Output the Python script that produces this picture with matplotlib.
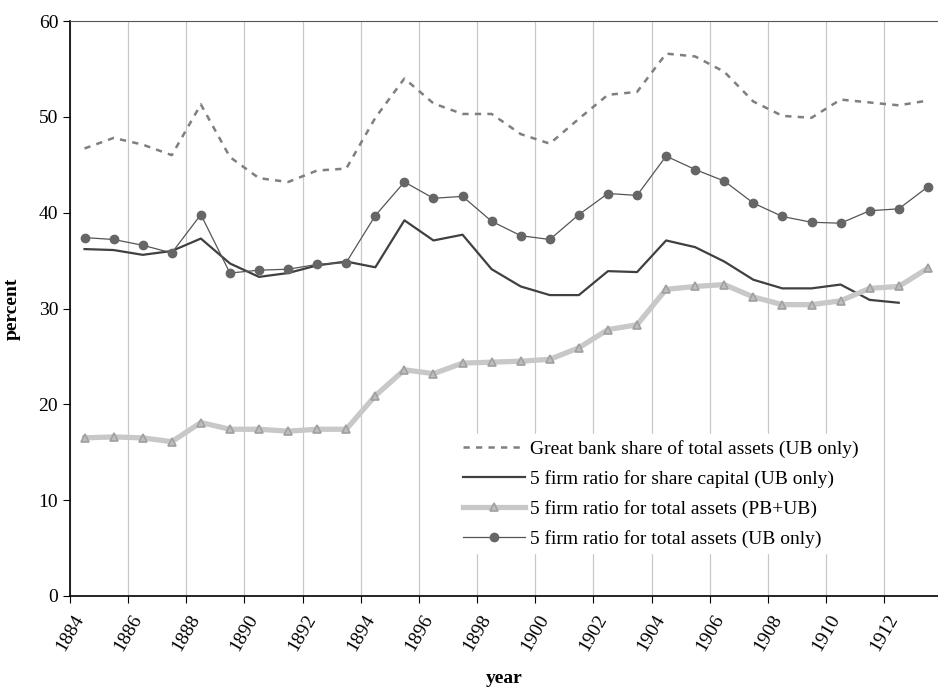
import matplotlib.pyplot as plt
import numpy as np

plt.rcParams['font.family'] = ['Liberation Serif', 'DejaVu Serif']

years = np.arange(1884.5, 1914.0, 1.0)

# Great bank share of total assets (UB only)
great_bank = [46.7, 47.8, 47.1, 46.0, 51.3, 45.8, 43.6, 43.2, 44.4, 44.6,
              49.9, 54.0, 51.4, 50.3, 50.3, 48.2, 47.2, 49.8, 52.3, 52.6,
              56.6, 56.3, 54.7, 51.6, 50.1, 49.9, 51.8, 51.5, 51.2, 51.7]
# 5 firm ratio for share capital (UB only), no value for 1913
share_cap = [36.2, 36.1, 35.6, 36.0, 37.3, 34.7, 33.3, 33.7, 34.5, 34.9,
             34.3, 39.2, 37.1, 37.7, 34.1, 32.3, 31.4, 31.4, 33.9, 33.8,
             37.1, 36.4, 34.9, 33.0, 32.1, 32.1, 32.5, 30.9, 30.6]
# 5 firm ratio for total assets (PB+UB)
assets_pbub = [16.5, 16.6, 16.5, 16.1, 18.1, 17.4, 17.4, 17.2, 17.4, 17.4,
               20.9, 23.6, 23.2, 24.3, 24.4, 24.5, 24.7, 25.9, 27.8, 28.3,
               32.0, 32.3, 32.5, 31.2, 30.4, 30.4, 30.8, 32.1, 32.3, 34.2]
# 5 firm ratio for total assets (UB only)
assets_ub = [37.4, 37.2, 36.6, 35.8, 39.8, 33.7, 34.0, 34.1, 34.6, 34.8,
             39.7, 43.2, 41.5, 41.7, 39.1, 37.6, 37.2, 39.8, 42.0, 41.8,
             45.9, 44.5, 43.3, 41.0, 39.6, 39.0, 38.9, 40.2, 40.4, 42.7]

labels = ['Great bank share of total assets (UB only)',
          '5 firm ratio for share capital (UB only)',
          '5 firm ratio for total assets (PB+UB)',
          '5 firm ratio for total assets (UB only)']

fig = plt.figure(figsize=(9.38, 6.89), dpi=100)
ax = fig.add_axes([70/938, 93/689, 868/938, 575/689])

ax.plot(years, great_bank, color='#7f7f7f', lw=1.8, ls=(0, (2.5, 2.5)), label=labels[0])
ax.plot(years[:len(share_cap)], share_cap, color='#404040', lw=1.6, label=labels[1])
ax.plot(years, assets_pbub, color='#c8c8c8', lw=3.8, marker='^', ms=6,
        mfc='#bdbdbd', mec='#a0a0a0', mew=1.2, label=labels[2])
ax.plot(years, assets_ub, color='#555555', lw=0.9, marker='o', ms=6,
        mfc='#666666', mec='#666666', label=labels[3])

ax.set_xlim(1884, 1913.85)
ax.set_ylim(0, 60)
ax.set_xticks(np.arange(1884, 1913, 2))
ax.set_xticklabels([str(y) for y in range(1884, 1913, 2)], rotation=60, ha='center')
ax.set_yticks(np.arange(0, 61, 10))
ax.tick_params(axis='both', direction='out', length=5, labelsize=14, colors='black')
ax.tick_params(axis='x', pad=6)
ax.xaxis.grid(True, color='#c8c8c8', lw=0.9)
ax.set_axisbelow(True)

for s in ['left', 'bottom']:
    ax.spines[s].set_color('black')
    ax.spines[s].set_linewidth(1.2)
ax.spines['top'].set_color('#555555')
ax.spines['right'].set_visible(False)

ax.set_ylabel('percent', fontsize=14, fontweight='bold')
ax.yaxis.set_label_coords(-0.057, 0.5)
ax.set_xlabel('year', fontsize=14, fontweight='bold')
ax.xaxis.set_label_coords(0.5, -0.128)

leg = ax.legend(loc='upper left', bbox_to_anchor=(0.446, 0.281), frameon=True,
                fontsize=14, handlelength=3.2, handletextpad=0.26,
                labelspacing=0.61, borderaxespad=0, borderpad=0.3)
leg.get_frame().set_edgecolor('white')
leg.get_frame().set_facecolor('white')
leg.get_frame().set_alpha(1)

plt.savefig('out.png', dpi=100)
